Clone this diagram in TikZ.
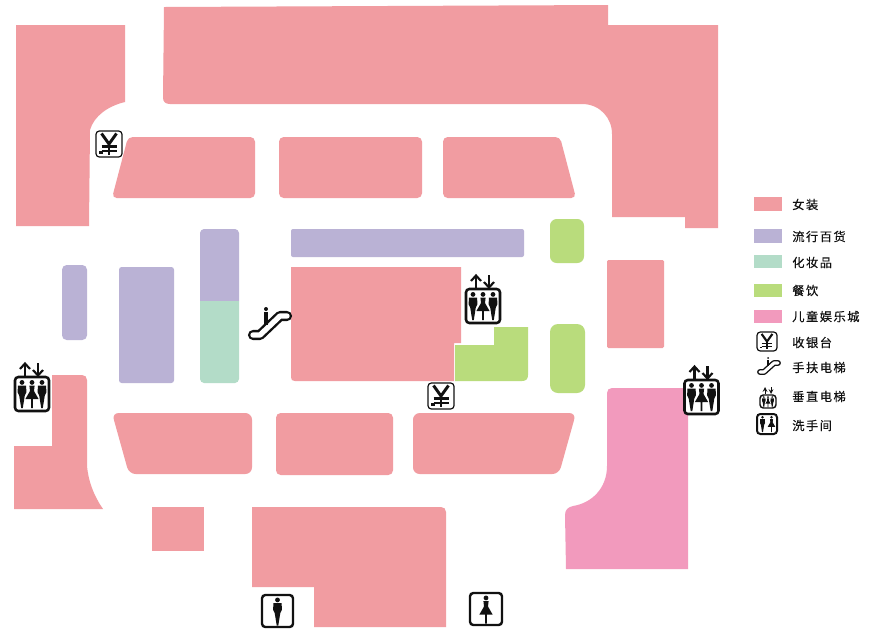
\documentclass[tikz,border=0pt]{standalone}
\usepackage{fontspec}
\newfontfamily\cjk[LetterSpace=12,FakeBold=0.25]{Noto Sans CJK SC}
\definecolor{shop}{HTML}{F19CA1}
\definecolor{fashion}{HTML}{BAB2D5}
\definecolor{beauty}{HTML}{B3DCC8}
\definecolor{food}{HTML}{B9DC7C}
\definecolor{kids}{HTML}{F29ABD}
\definecolor{ink}{HTML}{111111}
\tikzset{
  area/.style={fill=#1,draw=none,rounded corners=3.5pt},
  swatch/.style={fill=#1,draw=none},
  legendtext/.style={anchor=west,inner sep=0pt,font=\cjk\fontsize{9.2pt}{11pt}\selectfont,text=ink},
  iconbox/.style={draw=ink,fill=white,line width=#1,rounded corners=2.5pt},
  personman/.pic={
    \fill[ink] (0,-11.6) circle (2.4);
    \fill[ink] (-4.2,-8.4) -- (4.2,-8.4) -- (4.3,-1.5) -- (2.8,1.5) -- (0.8,14) -- (-0.8,14) -- (-2.8,1.5) -- (-4.3,-1.5) -- cycle;
  },
  personwoman/.pic={
    \fill[ink] (0,-11.6) circle (2.4);
    \fill[ink] (-2.6,-8.4) -- (2.6,-8.4) -- (2,-3) -- (6.6,5) -- (0.8,5) -- (0.8,14) -- (-0.8,14) -- (-0.8,5) -- (-6.6,5) -- (-2,-3) -- cycle;
  },
  liftarrows/.pic={
    \draw[ink,line width=1.6pt] (-7,-17) -- (-7,-30.5);
    \draw[ink,line width=1.6pt,line join=miter] (-12,-25) -- (-7,-30.5) -- (-2,-25);
    \draw[ink,line width=1.6pt] (6,-31) -- (6,-18.5);
    \draw[ink,line width=1.6pt,line join=miter] (1,-24) -- (6,-18.5) -- (11,-24);
  },
  yenmark/.pic={
    \draw[ink,line width=2.2pt*\yenw] (-7.5,-10.5) -- (0,0) -- (7.5,-10.5);
    \draw[ink,line width=2.2pt*\yenw] (0,0) -- (0,10.5);
    \draw[ink,line width=1.6pt*\yenw] (-7.5,2.5) -- (7.5,2.5);
    \draw[ink,line width=1.6pt*\yenw] (-7.5,6.8) -- (7.5,6.8);
    \fill[ink] (-10,7) rectangle (-6.5,9.5);
  }
}
\def\yenw{1}
\begin{document}
\begin{tikzpicture}[x=0.75pt,y=-0.75pt]
\useasboundingbox (0,0) rectangle (870,637);
\fill[white] (0,0) rectangle (870,637);
% large blocks
\fill[area=shop,rounded corners=0pt] (16,25) -- (125,25) -- (125,102) .. controls (108,106) and (94,116) .. (90,130) -- (89,226) -- (16,226) -- cycle;
\fill[shop] (164,7) -- (608,5) -- (608,25) -- (718,25) -- (718,228) -- (685,228) -- (685,217) -- (612,217) -- (612,134) .. controls (612,118) and (600,104) .. (582,104) -- (170,104) .. controls (166,104) and (163,102) .. (163,98) -- cycle;
% upper row
\fill[area=shop] (128,137) -- (255,137) -- (255,198) -- (112,198) -- cycle;
\fill[area=shop] (279,137) -- (422,137) -- (422,198) -- (279,198) -- cycle;
\fill[area=shop] (443,137) -- (560,137) -- (576,198) -- (443,198) -- cycle;
% fashion strip and food
\fill[area=fashion,rounded corners=1.5pt] (291,229) -- (524,229) -- (524,257) -- (291,257) -- cycle;
\fill[area=food,rounded corners=5pt] (550,219) -- (584,219) -- (584,263) -- (550,263) -- cycle;
\fill[area=food,rounded corners=6pt] (550,324) -- (585,324) -- (585,393) -- (550,393) -- cycle;
\fill[area=shop,rounded corners=1pt] (607,260) -- (664,260) -- (664,348) -- (607,348) -- cycle;
\fill[area=fashion] (62,265) -- (87,265) -- (87,340) -- (62,340) -- cycle;
\fill[area=fashion,rounded corners=2pt] (119,267) -- (174,267) -- (174,383) -- (119,383) -- cycle;
\fill[fashion] (200,301) -- (200,233) .. controls (200,231) and (202,229) .. (204,229) -- (235,229) .. controls (237,229) and (239,231) .. (239,233) -- (239,301) -- cycle;
\fill[beauty] (200,301) -- (239,301) -- (239,379) .. controls (239,381) and (237,383) .. (235,383) -- (204,383) .. controls (202,383) and (200,381) .. (200,379) -- cycle;
% centre
\fill[shop] (291,267) -- (461,267) -- (461,343) -- (454,343) -- (454,381) -- (295,381) .. controls (292,381) and (291,380) .. (291,377) -- cycle;
\fill[food] (455,345) -- (494,345) -- (494,327) -- (528,327) -- (528,375) .. controls (528,379) and (526,381) .. (522,381) -- (455,381) -- cycle;
% lower row
\fill[area=shop,rounded corners=5pt] (112,413) -- (252,413) -- (252,474) -- (129,474) -- cycle;
\fill[area=shop] (276,413) -- (393,413) -- (393,475) -- (276,475) -- cycle;
\fill[area=shop,rounded corners=5pt] (413,413) -- (576,413) -- (559,474) -- (413,474) -- cycle;
% lower left
\fill[shop] (52,375) -- (82,375) .. controls (85,375) and (87,377) .. (87,380) -- (87,465) .. controls (88,481) and (94,496) .. (103,509) -- (14,509) -- (14,446) -- (52,446) -- cycle;
\fill[shop] (152,507) rectangle (204,551);
\fill[shop] (252,507) -- (441,507) .. controls (444,507) and (446,509) .. (446,512) -- (446,627) -- (314,627) -- (314,587) -- (252,587) -- cycle;
% kids
\fill[kids] (612,388) -- (688,388) -- (688,569) -- (566,569) -- (565,515) .. controls (565,510) and (568,507) .. (573,506) .. controls (592,503) and (607,488) .. (607,466) -- (607,393) .. controls (607,390) and (609,388) .. (612,388) -- cycle;

% lifts
\foreach \cx/\cy in {483/306, 32/394, 701.5/397}{
  \draw[iconbox=1.9pt] (\cx-17,\cy-17) rectangle (\cx+17,\cy+17);
  \pic at (\cx,\cy) {liftarrows};
  \pic at (\cx-10,\cy) {personman};
  \pic at (\cx,\cy) {personwoman};
  \pic at (\cx+10,\cy) {personman};
}
% small elevator in legend
\draw[iconbox=1.1pt] (760,395) rectangle (776,408);
\pic[scale=0.4] at (763.8,401.7) {personman};
\pic[scale=0.4] at (768,401.7) {personwoman};
\pic[scale=0.4] at (772.2,401.7) {personman};
\draw[ink,line width=0.6pt,->,>=stealth] (765,394) -- (765,387);
\draw[ink,line width=0.6pt,->,>=stealth] (771,387) -- (771,394);

% cashier icons
\foreach \cx/\cy in {109/144, 441/396}{
  \draw[iconbox=0.9pt] (\cx-13,\cy-13) rectangle (\cx+13,\cy+13);
  \pic at (\cx,\cy) {yenmark};
}
\draw[iconbox=0.9pt] (757,332) rectangle (777,351);
\begingroup\def\yenw{0.72}
\pic[scale=0.72] at (767,341.5) {yenmark};
\endgroup

% escalator
\draw[ink,line width=7.6pt,line join=round,line cap=round] (253,335) -- (260,335) -- (280,316) -- (287,316);
\draw[white,line width=4pt,line join=round,line cap=round] (253,335) -- (260,335) -- (280,316) -- (287,316);
\fill[ink] (266,309) circle (2);
\fill[ink] (264,312) rectangle (268,325);
% legend escalator
\draw[ink,line width=4.4pt,line join=round,line cap=round] (760,372) -- (764,372) -- (774,363) -- (778,363);
\draw[white,line width=2.3pt,line join=round,line cap=round] (760,372) -- (764,372) -- (774,363) -- (778,363);
\fill[ink] (768,358) circle (1);
\fill[ink] (767,360) rectangle (769,366);

% washroom icons
\draw[iconbox=1.8pt] (262,595) rectangle (293,627);
\pic at (277.5,611.5) {personman};
\draw[iconbox=1.8pt] (470,593) rectangle (502,625);
\pic at (486,609.5) {personwoman};
\draw[iconbox=1.5pt] (757,414) rectangle (777,434);
\pic[scale=0.58] at (762.5,424) {personman};
\pic[scale=0.58] at (771.5,424) {personwoman};

% legend
\fill[swatch=shop] (754,197) rectangle (782,211);
\fill[swatch=fashion] (754,229) rectangle (782,243);
\fill[swatch=beauty] (754,255) rectangle (782,268);
\fill[swatch=food] (754,284) rectangle (782,297);
\fill[swatch=kids] (754,310) rectangle (782,323);
\node[legendtext] (t1) at (792,204.5) {女装};
\node[legendtext] (t2) at (792,236.5) {流行百货};
\node[legendtext] (t3) at (792,262.5) {化妆品};
\node[legendtext] (t4) at (792,290.5) {餐饮};
\node[legendtext] (t5) at (792,316.5) {儿童娱乐城};
\node[legendtext] (t6) at (792,342.5) {收银台};
\node[legendtext] (t7) at (792,367.5) {手扶电梯};
\node[legendtext] (t8) at (792,396.5) {垂直电梯};
\node[legendtext] (t9) at (792,425.5) {洗手间};
\end{tikzpicture}
\end{document}
